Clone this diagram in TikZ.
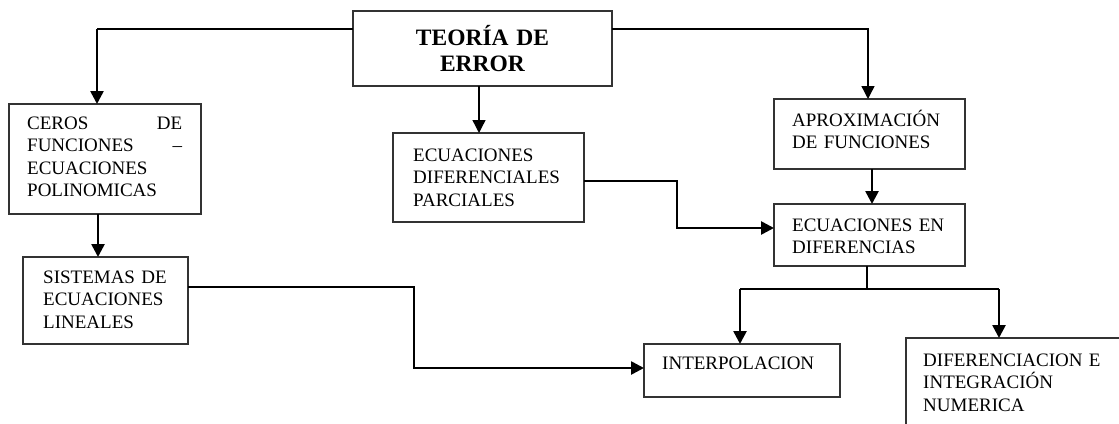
\documentclass[tikz,border=0pt]{standalone}
\usepackage{fontspec}
\setmainfont{Liberation Serif}
\usetikzlibrary{arrows.meta}
\begin{document}
\begin{tikzpicture}[x=1pt,y=-1pt,
  box/.style={draw=black!80, line width=1.3pt, inner sep=0pt, outer sep=0pt, anchor=north west},
  txt/.style={inner sep=0pt, anchor=base west, align=left, text width=190pt, font=\fontsize{19}{22.3}\selectfont},
  thinline/.style={draw=black, line width=1.4pt, line join=miter},
  thickline/.style={draw=black, line width=2.6pt, line join=miter},
  tip/.style={-{Triangle[length=13pt,width=13pt]}}]
\useasboundingbox (0,0) rectangle (1119,423);
\clip (0,0) rectangle (1119,423);
% boxes
\node[box, minimum width=259pt, minimum height=75pt] (main) at (353,11) {};
\node[box, minimum width=192pt, minimum height=110pt] (ceros) at (9,104) {};
\node[box, minimum width=191pt, minimum height=89pt] (edp) at (393,133) {};
\node[box, minimum width=191pt, minimum height=70pt] (aprox) at (774,99) {};
\node[box, minimum width=191pt, minimum height=62pt] (eqen) at (774,204) {};
\node[box, minimum width=165pt, minimum height=87pt] (sist) at (23,257) {};
\node[box, minimum width=196pt, minimum height=53pt] (interp) at (644,344) {};
\node[box, minimum width=260pt, minimum height=120pt] (dif) at (906,338) {};
% texts
\node[inner sep=0pt, anchor=base, align=center, text width=240pt, font=\fontsize{23.5}{26}\selectfont\bfseries] (maint) at (482.5,45.5) {TEORÍA DE\\ERROR};
\node[txt, text width=155pt] (cerost) at (27,129.5) {CEROS\hfill DE\\FUNCIONES\hfill –\\ECUACIONES\\POLINOMICAS};
\node[txt] (edpt) at (413,161.5) {ECUACIONES\\DIFERENCIALES\\PARCIALES};
\node[txt] (aproxt) at (792,126.5) {APROXIMACIÓN\\DE FUNCIONES};
\node[txt] (eqent) at (792,231.5) {ECUACIONES EN\\DIFERENCIAS};
\node[txt] (sistt) at (43,283.5) {SISTEMAS DE\\ECUACIONES\\LINEALES};
\node[txt] (interpt) at (662,369.5) {INTERPOLACION};
\node[txt] (dift) at (923,366.5) {DIFERENCIACION E\\INTEGRACIÓN\\NUMERICA};
% connectors
\coordinate (lc) at (97,29);
\coordinate (rc) at (868,29);
\coordinate (sp) at (867,289);
\coordinate (ek) at (677,228);
\coordinate (sk) at (414,368);
\draw[thinline] (main.west |- lc) -- (lc);
\draw[thickline, tip] (lc) -- (ceros.north -| lc);
\draw[thinline, tip] (main.east |- rc) -| (aprox.north -| rc);
\draw[thinline, tip] (main.south -| 479,0) -- (edp.north -| 479,0);
\draw[thickline, tip] (ceros.south -| 98,0) -- (sist.north -| 98,0);
\draw[thickline, tip] (edp.east |- 0,181) -| (ek) -- (eqen.west |- ek);
\draw[thickline, tip] (aprox.south -| 872,0) -- (eqen.north -| 872,0);
\draw[thickline] (eqen.south -| sp) -- (sp);
\draw[thickline] (740,289) -- (999,289);
\draw[thickline, tip] (740,289) -- (interp.north -| 740,0);
\draw[thickline, tip] (999,289) -- (dif.north -| 999,0);
\draw[thickline, tip] (sist.east |- 0,287) -| (sk) -- (interp.west |- sk);
\end{tikzpicture}
\end{document}
